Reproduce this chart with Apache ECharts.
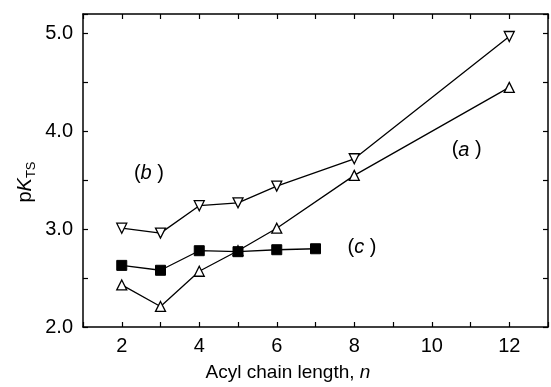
<!DOCTYPE html>
<html>
<head>
<meta charset="utf-8">
<script src="https://cdn.jsdelivr.net/npm/echarts@6/dist/echarts.min.js"></script>
<style>
html,body{margin:0;padding:0;background:#fff;}
#c{width:551px;height:387px;}
</style>
</head>
<body>
<div id="c"></div>
<script>
// Acyl chain length n
var nA = [2, 3, 4, 5, 6, 8, 12];
var pkA = [2.43, 2.21, 2.57, 2.78, 3.01, 3.55, 4.45];   // (a) open up-triangles
var nB = [2, 3, 4, 5, 6, 8, 12];
var pkB = [3.01, 2.96, 3.24, 3.27, 3.44, 3.72, 4.97];   // (b) open down-triangles
var nC = [2, 3, 4, 5, 6, 7];
var pkC = [2.63, 2.58, 2.78, 2.77, 2.79, 2.80];         // (c) filled squares
// curve labels: [n, pK, letter]
var curveLabels = [[10.9, 3.81, 'a'], [2.7, 3.57, 'b'], [8.2, 2.81, 'c']];
var xTickLabels = [2, 4, 6, 8, 10, 12];
var yTickLabels = [2.0, 3.0, 4.0, 5.0];

var FONT = 'Liberation Sans';
function pairs(xs, ys){ return xs.map(function(x,i){return [x, ys[i]];}); }

var axisLine = {show:true, lineStyle:{color:'#000', width:1.5}};
var tick = {show:true, inside:true, length:5, lineStyle:{color:'#000', width:1.2}};

var chart = echarts.init(document.getElementById('c'), null, {renderer:'canvas'});
chart.setOption({
  animation:false,
  backgroundColor:'#fff',
  grid:{left:83, right:2, top:14, bottom:60},
  xAxis:[
    {type:'value', min:1, max:13, interval:1, position:'bottom',
     axisLine:axisLine, axisTick:tick, splitLine:{show:false},
     axisLabel:{margin:9, color:'#000', fontFamily:FONT, fontSize:20,
       formatter:function(v){ return xTickLabels.indexOf(v) >= 0 ? String(v) : ''; }}},
    {type:'value', min:1, max:13, interval:1, position:'top',
     axisLine:axisLine, axisTick:tick, splitLine:{show:false}, axisLabel:{show:false}}
  ],
  yAxis:[
    {type:'value', min:2, max:5.2, interval:0.5, position:'left',
     axisLine:axisLine, axisTick:tick, splitLine:{show:false},
     axisLabel:{margin:10, color:'#000', fontFamily:FONT, fontSize:20,
       formatter:function(v){
         for (var i=0;i<yTickLabels.length;i++){ if (Math.abs(v-yTickLabels[i])<1e-6) return yTickLabels[i].toFixed(1); }
         return '';
       }}},
    {type:'value', min:2, max:5.2, interval:0.5, position:'right',
     axisLine:axisLine, axisTick:tick, splitLine:{show:false}, axisLabel:{show:false}}
  ],
  series:[
    {type:'line', data:pairs(nA, pkA), symbol:'triangle', symbolSize:10,
     lineStyle:{color:'#000', width:1.3}, itemStyle:{color:'#fff', borderColor:'#000', borderWidth:1.3}, z:2},
    {type:'line', data:pairs(nB, pkB), symbol:'triangle', symbolRotate:180, symbolSize:10,
     lineStyle:{color:'#000', width:1.3}, itemStyle:{color:'#fff', borderColor:'#000', borderWidth:1.3}, z:2},
    {type:'line', data:pairs(nC, pkC), symbol:'rect', symbolSize:10,
     lineStyle:{color:'#000', width:1.3}, itemStyle:{color:'#000', borderColor:'#000', borderWidth:1}, z:3},
    {type:'scatter', data:curveLabels, symbolSize:0, silent:true,
     itemStyle:{color:'#000', opacity:1},
     label:{show:true, position:'inside', color:'#000', opacity:1, textBorderWidth:0, textBorderColor:'transparent',
       formatter:function(p){ return '{n|(}{i|'+p.data[2]+'}{n| )}'; },
       rich:{n:{fontFamily:FONT, fontSize:20, color:'#000', textBorderWidth:0},
             i:{fontFamily:FONT, fontSize:20, fontStyle:'italic', color:'#000', textBorderWidth:0}}}}
  ],
  graphic:[
    {type:'text', x:288, y:373,
     style:{text:'{n|Acyl chain length, }{i|n}', align:'center', verticalAlign:'middle',
       rich:{n:{fontFamily:FONT, fontSize:19, fill:'#000'},
             i:{fontFamily:FONT, fontSize:19, fontStyle:'italic', fill:'#000'}}}},
    {type:'text', x:23, y:182, rotation:Math.PI/2,
     style:{text:'{p|p}{k|K}{s|TS}', align:'center', verticalAlign:'middle',
       rich:{p:{fontFamily:FONT, fontSize:20, fill:'#000', lineHeight:24, verticalAlign:'bottom'},
             k:{fontFamily:FONT, fontSize:20, fontStyle:'italic', fill:'#000', lineHeight:24, verticalAlign:'bottom'},
             s:{fontFamily:FONT, fontSize:13, fill:'#000', lineHeight:14, verticalAlign:'bottom', padding:[0,0,-3,0]}}}}
  ]
});
</script>
</body>
</html>
